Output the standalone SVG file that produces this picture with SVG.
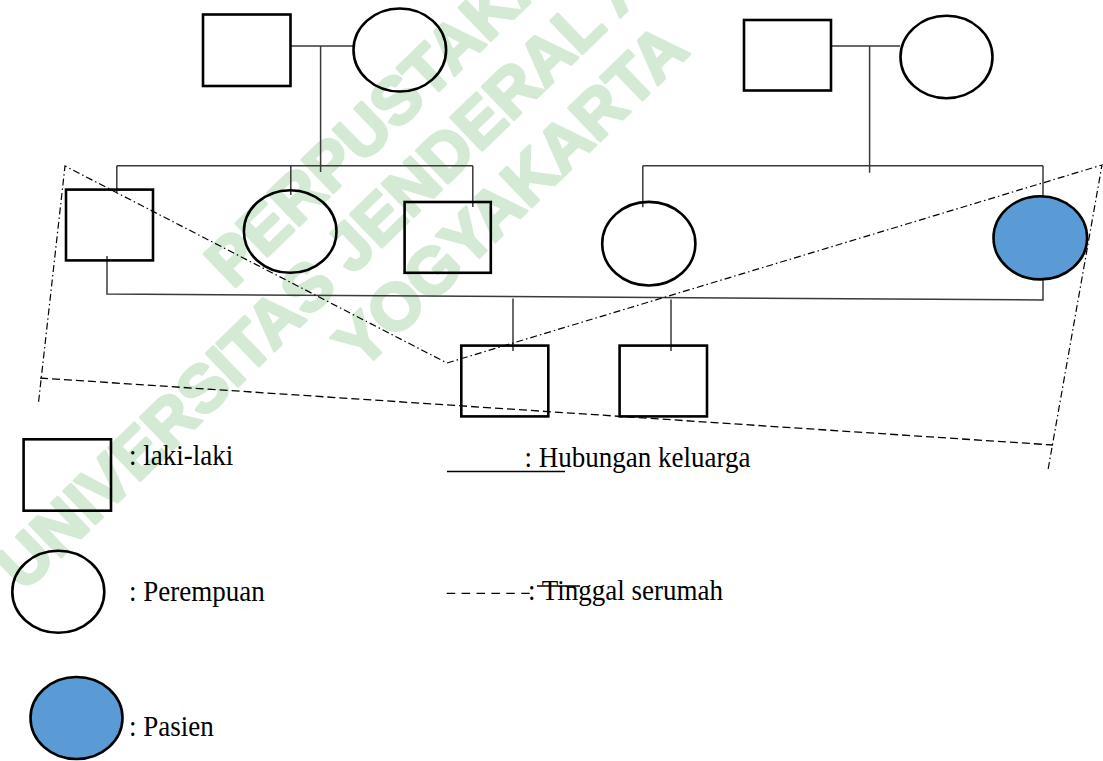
<svg xmlns="http://www.w3.org/2000/svg" width="1103" height="761" viewBox="0 0 1103 761">
<style>
.wm{font-family:"Liberation Sans",Arial,sans-serif;font-weight:bold;font-size:66px;fill:#d5ead5;stroke:#d5ead5;stroke-width:3;stroke-linejoin:round}
.node{fill:none;stroke:#000;stroke-width:2.6}
.pat{fill:#5b9bd5;stroke:#000;stroke-width:2.6}
.con{fill:none;stroke:#3a3a3a;stroke-width:1.5}
.dd{fill:none;stroke:#000;stroke-width:1.2;stroke-dasharray:7 3 1.5 3}
.dash{fill:none;stroke:#000;stroke-width:1.3;stroke-dasharray:8 4}
.lgl{fill:none;stroke:#000;stroke-width:1.3}
.lbl{font-family:"Liberation Serif","Times New Roman",serif;font-size:27px;fill:#000}
</style>
<rect width="1103" height="761" fill="#fff"/>
<g id="watermark" transform="rotate(-44)">
<text class="wm" x="-34" y="370">PERPUSTAKA</text>
<text class="wm" x="-395" y="443">UNIVERSITAS JENDERAL A</text>
<text class="wm" x="2" y="518">YOGYAKARTA</text>
</g>
<g id="connectors">
<path class="con" d="M290 46H353 M320.6 46V172 M116.8 165.7H472.8 M116.8 165.7V192 M290.8 165.7V195 M472.8 165.7V207"/>
<path class="con" d="M831 46H900 M869.6 46V172.7 M642.8 165.7H1043 M642.8 165.7V207.3 M1043 165.7V207.3"/>
<path class="con" d="M107 256V294L1043 300V274"/>
<path class="con" d="M513 298.5V351 M671 299.5V351"/>
<polyline class="dd" points="38.6,401.7 65,166 447,363 1102,165 1048,470"/>
<line class="dash" x1="40" y1="378" x2="1053" y2="445"/>
</g>
<g id="gp1-male"><rect class="node" x="203" y="14.5" width="87.5" height="71.5"/></g>
<g id="gp1-female"><ellipse class="node" cx="399.8" cy="50" rx="46.3" ry="41.5"/></g>
<g id="gp2-male"><rect class="node" x="744" y="20" width="87" height="70.5"/></g>
<g id="gp2-female"><ellipse class="node" cx="946.5" cy="57" rx="46" ry="41.2"/></g>
<g id="child1"><rect class="node" x="66" y="189.6" width="87" height="70.8"/></g>
<g id="child2"><ellipse class="node" cx="290.2" cy="231.5" rx="46.3" ry="41.3"/></g>
<g id="child3"><rect class="node" x="404.6" y="202" width="86.2" height="70.8"/></g>
<g id="child4"><ellipse class="node" cx="648.8" cy="243.7" rx="46.6" ry="41.8"/></g>
<g id="patient"><ellipse class="pat" cx="1040.3" cy="237.8" rx="46.8" ry="41.6"/></g>
<g id="grandchild1"><rect class="node" x="461.3" y="345.6" width="87" height="70.8"/></g>
<g id="grandchild2"><rect class="node" x="619.6" y="345.6" width="87.4" height="70.8"/></g>
<g id="legend">
<rect class="node" x="23.6" y="439.3" width="87.4" height="71.4"/>
<text class="lbl" transform="translate(129,465) scale(1,1.08)">: laki-laki</text>
<line class="lgl" x1="447" y1="471.5" x2="565" y2="471.5"/>
<text class="lbl" transform="translate(524.5,466.5) scale(1,1.08)">: Hubungan keluarga</text>
<ellipse class="node" cx="58.3" cy="591.7" rx="46" ry="41"/>
<text class="lbl" transform="translate(129,601) scale(1,1.08)">: Perempuan</text>
<line class="lgl" x1="446.7" y1="593.3" x2="530" y2="593.3" stroke-dasharray="8.5 6.4"/>
<text class="lbl" transform="translate(528,600) scale(1,1.08)">: Tinggal serumah</text>
<line class="lgl" x1="537" y1="586" x2="580" y2="586"/>
<ellipse class="pat" cx="76.5" cy="718" rx="46" ry="41"/>
<text class="lbl" transform="translate(129,736) scale(1,1.08)">: Pasien</text>
</g>
</svg>
